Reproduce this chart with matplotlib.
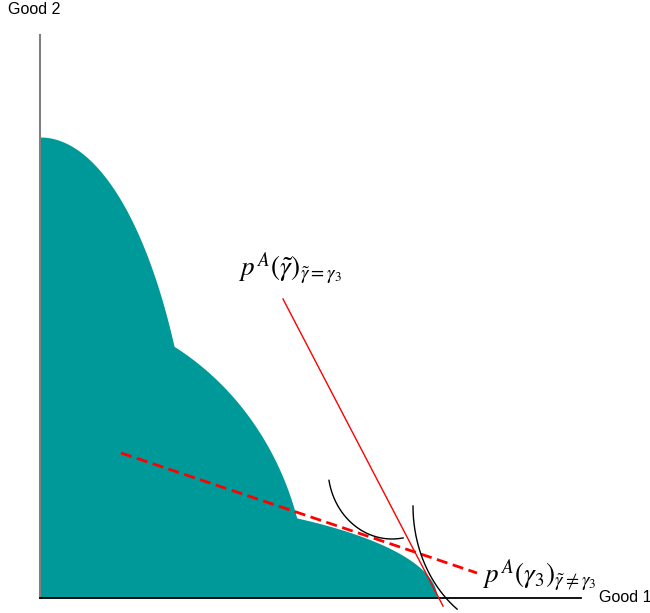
import numpy as np
import matplotlib
matplotlib.use("Agg")
from matplotlib import pyplot as plt

# production frontier: three elliptic quadrants centred on the origin
frontier_a = [160, 267, 397]   # horizontal semi-axes (good 1)
frontier_b = [461, 291, 105]   # vertical semi-axes (good 2)

# price lines (start, end)
price_solid_x = [243, 403]
price_solid_y = [299, -8]
price_dash_x = [81, 437]
price_dash_y = [145, 25]

# indifference curves: centre x, centre y, a, b, angle start, angle end (deg)
ic1 = [352, 130, 64, 71, 170, 80]
ic2 = [480, 92, 107, 127.5, 180, 126]

axis_x_end = 541
axis_y_end = 563

teal = "#009999"

plt.rcParams['mathtext.fontset'] = 'stix'
plt.rcParams['font.family'] = ['Liberation Sans', 'DejaVu Sans']

fig = plt.figure(figsize=(6.5, 6.13), dpi=100)
ax = fig.add_axes([0, 0, 1, 1])
ax.set_xlim(-40, 610)
ax.set_ylim(-15, 598)
ax.axis('off')

# envelope of the three ellipses = outer frontier
xs = np.linspace(0, max(frontier_a), 800)
ys = np.zeros_like(xs)
for a, b in zip(frontier_a, frontier_b):
    inside = xs <= a
    y = np.zeros_like(xs)
    y[inside] = b * np.sqrt(1 - (xs[inside] / a) ** 2)
    ys = np.maximum(ys, y)
ax.fill_between(xs, 0, ys, color=teal, linewidth=0, zorder=1)

# axes
ax.plot([0, 0], [0, axis_y_end], color="#808080", lw=1.5, zorder=3)
ax.plot([0, axis_x_end], [0, 0], color="black", lw=1.3, zorder=3)

# price lines
ax.plot(price_solid_x, price_solid_y, color="red", lw=1, zorder=4)
ax.plot(price_dash_x, price_dash_y, color="red", lw=2, ls=(0, (4, 2)), zorder=4)

# indifference curves
for cx, cy, a, b, t0, t1 in [ic1, ic2]:
    t = np.radians(np.linspace(t0, t1, 200))
    ax.plot(cx + a * np.cos(t), cy - b * np.sin(t), color="black", lw=1, zorder=5)

ax.text(-32, 588, "Good 2", fontsize=11.5, va='center', ha='left')
ax.text(559, 0, "Good 1", fontsize=11.5, va='center', ha='left')
ax.text(198, 322, r'$p^{\,A}(\tilde{\gamma})_{\tilde{\gamma}=\gamma_3}$',
        fontsize=19.5, va='baseline', ha='left')
ax.text(442, 15, r'$p^{\,A}(\gamma_3)_{\tilde{\gamma}\neq\gamma_3}$',
        fontsize=19.5, va='baseline', ha='left')

fig.savefig("out.png", dpi=100)
